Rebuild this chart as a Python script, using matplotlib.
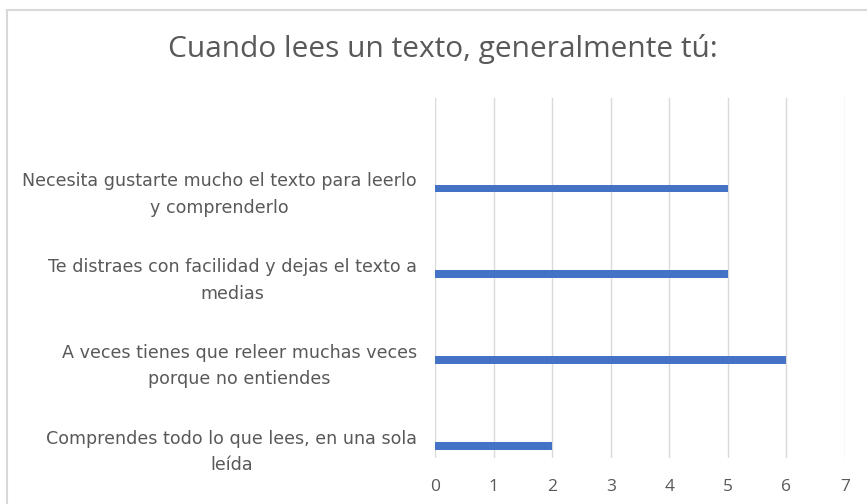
import matplotlib
matplotlib.use("Agg")
import matplotlib.pyplot as plt
from matplotlib.patches import Rectangle

title = "Cuando lees un texto, generalmente tú:"
categories = [
    "Comprendes todo lo que lees, en una sola\nleída",
    "A veces tienes que releer muchas veces\nporque no entiendes",
    "Te distraes con facilidad y dejas el texto a\nmedias",
    "Necesita gustarte mucho el texto para leerlo\ny comprenderlo",
]
values = [2, 6, 5, 5]
xticks = [0, 1, 2, 3, 4, 5, 6, 7]

plt.rcParams['font.family'] = ['Open Sans', 'DejaVu Sans']

fig = plt.figure(figsize=(8.67, 5.04), dpi=100)
fig.patch.set_facecolor('white')

# chart border (top and left visible, right/bottom cropped)
fig.add_artist(Rectangle((6.5/867, -0.1), 1.2, 1.1 - 10.5/504, transform=fig.transFigure,
                         fill=False, edgecolor='#D9D9D9', linewidth=1.5))

ax = fig.add_axes([435/867, 1 - 458/504, 410/867, 360/504])
pos = list(range(len(categories)))
ax.barh(pos, values, height=0.085, color='#4472C4', zorder=3)
ax.set_xlim(0, 7)
ax.set_ylim(-0.14, 4.05)
ax.set_xticks(xticks)
ax.set_xticklabels([str(t) for t in xticks])
ax.set_yticks(pos)
ax.set_yticklabels(categories, multialignment='center', linespacing=1.6,
                   family=['DejaVu Sans'])
ax.grid(axis='x', color='#D9D9D9', linewidth=1.0, zorder=0)
ax.grid(axis='y', visible=False)
for s in ax.spines.values():
    s.set_visible(False)
ax.tick_params(axis='both', length=0, colors='#595959')
ax.tick_params(axis='y', pad=13, labelsize=12.6)
ax.tick_params(axis='x', pad=15, labelsize=12.5)
for lbl in ax.get_yticklabels():
    lbl.set_color('#595959')

fig.text(443/867, 1 - 49/504, title, ha='center', va='center', fontsize=21.5, color='#595959')

fig.savefig('out.png', dpi=100, facecolor='white')
